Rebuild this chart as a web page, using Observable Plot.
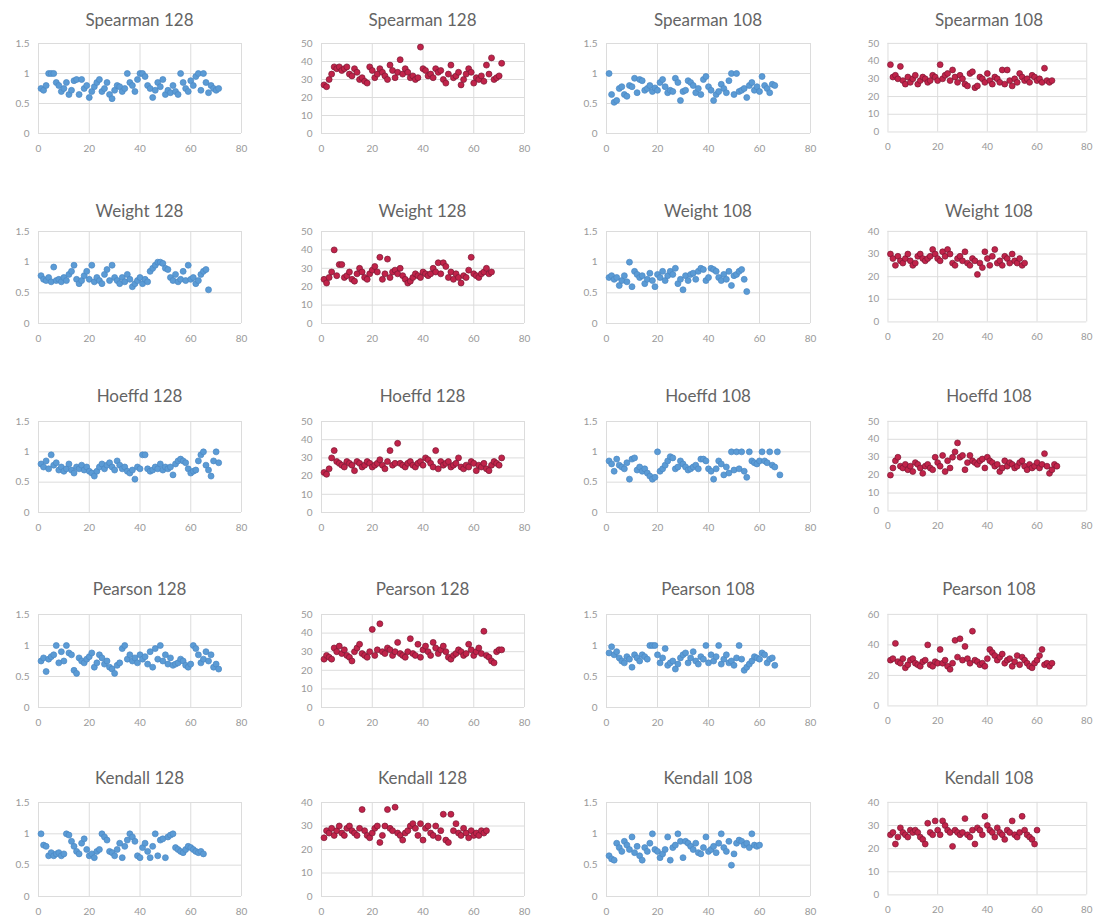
<!DOCTYPE html>
<html><head><meta charset="utf-8">
<script src="https://cdn.jsdelivr.net/npm/d3@7"></script>
<script src="https://cdn.jsdelivr.net/npm/@observablehq/plot@0.6"></script>
<style>
html,body{margin:0;padding:0;background:#fff;}
#root{position:relative;width:1102px;height:917px;overflow:hidden;font-family:Lato,"Open Sans",sans-serif;}
.panel{position:absolute;}
.title{position:absolute;font-size:17px;color:#646464;text-align:center;white-space:nowrap;line-height:20px;}
</style></head><body><div id="root"></div>
<script>
// ---------- DATA (x = 1..N) ----------
const spearman128Blue = [0.75,0.72,0.8,1.0,1.0,1.0,0.85,0.8,0.7,0.75, 0.85,0.65,0.72,0.88,0.9,0.65,0.9,0.75,0.8,0.6, 0.7,0.78,0.85,0.9,0.7,0.75,0.85,0.65,0.58,0.72, 0.8,0.78,0.7,0.75,1.0,0.85,0.8,0.7,0.9,1.0, 1.0,0.95,0.8,0.75,0.6,0.72,0.85,0.78,0.9,0.65, 0.72,0.68,0.8,0.7,0.65,1.0,0.85,0.75,0.7,0.88, 0.8,0.95,1.0,0.72,1.0,0.85,0.68,0.8,0.75,0.72, 0.75];
const spearman128Red = [27,26,30,33,37,36,37,35,36,37, 33,32,36,34,30,31,29,28,37,35, 31,33,36,34,32,30,38,35,31,34, 41,33,36,34,31,32,30,31,48,36, 35,32,33,31,36,34,35,30,28,33, 38,31,32,34,27,30,33,36,34,28, 31,30,32,29,38,33,42,30,31,32, 39];
const spearman108Blue = [1.0,0.65,0.52,0.55,0.75,0.78,0.65,0.62,0.8,0.78, 0.92,0.68,0.9,0.88,0.72,0.75,0.8,0.7,0.76,0.72, 0.85,0.9,0.78,0.68,0.72,0.7,0.92,0.85,0.55,0.7, 0.72,0.88,0.85,0.8,0.68,0.75,0.65,0.9,0.95,0.78, 0.72,0.55,0.65,0.7,0.82,0.75,0.68,0.88,1.0,0.65, 1.0,0.7,0.72,0.75,0.6,0.8,0.85,0.72,0.78,0.7, 0.95,0.8,0.75,0.68,0.82,0.8];
const spearman108Red = [38,31,32,30,37,29,27,31,28,30, 32,27,29,31,30,28,29,32,31,29, 38,30,32,33,29,35,31,28,32,30, 27,26,33,34,25,26,31,30,28,33, 29,27,31,30,28,35,27,35,29,26, 30,28,33,31,29,30,28,32,31,29, 30,28,36,29,28,29];

const weight128Blue = [0.78,0.72,0.7,0.75,0.68,0.92,0.7,0.72,0.68,0.75, 0.7,0.8,0.85,0.95,0.72,0.65,0.7,0.78,0.85,0.72, 0.95,0.68,0.75,0.7,0.65,0.8,0.88,0.7,0.95,0.75, 0.7,0.65,0.75,0.68,0.8,0.72,0.6,0.65,0.7,0.75, 0.65,0.72,0.68,0.85,0.9,0.95,1.0,1.0,0.98,0.9, 0.88,0.75,0.7,0.8,0.68,0.72,0.85,0.7,0.95,0.72, 0.75,0.65,0.7,0.8,0.85,0.88,0.55];
const weight128Red = [24,22,25,28,40,26,32,32,25,26, 28,24,23,27,30,28,25,24,27,29, 31,28,36,24,27,35,25,28,29,27, 30,26,24,22,23,25,27,26,25,28, 27,26,27,30,28,33,27,33,31,25, 28,24,27,25,22,26,25,29,36,27, 26,25,27,28,30,27,28];
const weight108Blue = [0.75,0.78,0.72,0.75,0.62,0.7,0.78,0.68,1.0,0.6, 0.85,0.8,0.75,0.78,0.65,0.72,0.82,0.7,0.6,0.8, 0.75,0.85,0.7,0.78,0.85,0.8,0.9,0.65,0.72,0.55, 0.78,0.7,0.8,0.82,0.72,0.85,0.9,0.88,0.7,0.75, 0.9,0.88,0.85,0.75,0.7,0.8,0.72,0.85,0.62,0.78, 0.8,0.85,0.88,0.72,0.52];
const weight108Red = [30,28,25,29,27,26,28,30,27,25, 26,29,30,28,27,28,29,32,30,28, 27,31,29,32,30,26,25,28,29,27, 31,26,25,28,27,21,26,24,31,28, 25,29,32,26,27,25,29,28,26,30, 27,26,28,25,26];

const hoeffd128Blue = [0.8,0.75,0.85,0.72,0.95,0.78,0.82,0.7,0.75,0.68, 0.72,0.8,0.7,0.65,0.75,0.72,0.78,0.7,0.75,0.68, 0.65,0.6,0.68,0.75,0.8,0.72,0.78,0.82,0.75,0.7, 0.85,0.78,0.72,0.75,0.68,0.65,0.7,0.55,0.75,0.72, 0.95,0.95,0.72,0.68,0.7,0.75,0.72,0.8,0.7,0.75, 0.72,0.75,0.62,0.8,0.85,0.88,0.85,0.82,0.72,0.65, 0.68,0.7,0.85,0.95,1.0,0.78,0.7,0.6,0.85,1.0, 0.82];
const hoeffd128Red = [22,21,24,30,34,28,27,26,25,28, 27,26,23,28,27,25,26,28,27,25, 26,27,29,26,24,28,34,26,27,38, 27,26,25,27,28,26,25,27,28,26, 30,29,27,25,34,24,28,26,27,28, 25,26,27,30,25,24,26,25,28,27, 23,26,25,27,24,23,26,28,27,26, 30];
const hoeffd108Blue = [0.85,0.8,0.68,0.88,0.78,0.75,0.72,0.82,0.55,0.88, 0.9,0.7,0.75,0.68,0.72,0.65,0.6,0.55,0.58,1.0, 0.68,0.72,0.78,0.85,0.92,0.9,0.72,0.75,0.85,0.8, 0.75,0.7,0.72,0.75,0.78,0.72,0.88,0.88,0.85,0.72, 0.68,0.55,0.72,0.85,0.8,0.62,0.75,0.65,1.0,0.7, 1.0,0.72,1.0,0.68,0.58,1.0,0.85,0.82,0.8,0.85, 1.0,0.85,0.82,1.0,0.78,0.75,1.0,0.62];
const hoeffd108Red = [20,24,28,30,25,24,26,23,25,22, 27,26,24,21,25,26,24,23,30,27, 25,31,22,28,24,30,33,38,30,31, 23,27,31,28,27,26,28,29,24,30, 28,27,25,26,22,24,28,25,27,26, 24,25,27,28,25,23,26,24,25,27, 24,26,32,25,21,23,26,25];

const pearson128Blue = [0.75,0.8,0.58,0.78,0.82,0.85,1.0,0.72,0.9,0.75, 1.0,0.88,0.85,0.6,0.55,0.8,0.75,0.72,0.78,0.82, 0.88,0.65,0.72,0.85,0.8,0.7,0.75,0.65,0.62,0.55, 0.68,0.72,0.95,1.0,0.78,0.85,0.75,0.8,0.72,0.85, 0.78,0.82,0.7,0.9,0.65,0.95,0.78,1.0,0.75,0.85, 0.7,0.8,0.68,0.7,0.72,0.78,0.75,0.68,0.65,0.7, 1.0,0.95,0.85,0.72,0.78,0.9,0.75,0.85,0.65,0.7, 0.62];
const pearson128Red = [26,28,27,26,32,30,33,29,31,28, 27,25,30,32,34,29,28,27,30,42, 28,31,45,30,29,32,31,28,30,35, 29,28,27,30,37,29,28,34,27,31, 33,30,28,35,32,29,31,33,30,27, 26,28,29,31,30,28,29,34,31,28, 30,32,29,41,28,27,25,24,30,31, 31];
const pearson108Blue = [0.88,0.98,0.85,0.9,0.8,0.75,0.72,0.82,0.78,0.65, 0.85,0.8,0.75,0.85,0.82,0.78,1.0,1.0,1.0,0.85, 0.72,0.8,0.95,0.68,0.72,0.75,0.62,0.7,0.8,0.85, 0.88,0.72,0.8,0.9,0.75,0.7,0.82,0.78,1.0,0.72, 0.85,0.75,0.82,1.0,0.7,0.78,0.85,0.72,0.75,0.68, 0.8,1.0,0.78,0.6,0.65,0.7,0.75,0.82,0.8,0.78, 0.88,0.85,0.72,0.78,0.8,0.68];
const pearson108Red = [30,31,41,29,28,31,25,27,30,31, 28,27,26,29,30,40,27,26,29,28, 37,28,30,26,24,28,43,32,44,30, 39,31,28,49,30,29,27,28,26,31, 37,35,33,30,32,34,28,30,31,26, 29,33,27,32,30,28,26,25,28,30, 33,37,27,28,26,28];

const kendall128Blue = [1.0,0.82,0.8,0.65,0.7,0.65,0.68,0.7,0.65,0.68, 1.0,0.98,0.88,0.8,0.72,0.68,0.85,0.92,0.75,0.65, 0.68,0.62,0.72,0.75,1.0,0.95,0.9,0.72,0.7,0.65, 0.75,0.85,0.62,0.8,0.9,1.0,0.95,0.88,0.65,0.62, 0.78,0.85,0.72,0.62,0.8,1.0,0.65,0.9,0.92,0.62, 0.95,0.98,1.0,0.78,0.75,0.72,0.7,0.75,0.8,0.78, 0.75,0.72,0.7,0.72,0.68];
const kendall128Red = [25,28,27,29,26,28,30,27,26,29, 30,28,27,26,29,37,28,26,25,27, 29,30,23,26,30,37,29,28,38,27, 26,24,27,28,30,31,29,26,31,24, 29,30,27,26,30,25,28,35,24,23, 35,28,31,27,26,29,27,25,28,26, 27,26,28,27,28];
const kendall108Blue = [0.65,0.6,0.58,0.85,0.78,0.72,0.88,0.82,0.75,0.95, 0.7,0.8,0.65,0.58,0.78,0.72,0.85,1.0,0.75,0.72, 0.62,0.68,0.75,0.95,0.58,0.78,0.82,1.0,0.88,0.62, 0.88,0.85,0.8,0.75,0.85,0.7,0.68,0.78,0.95,0.72, 0.75,0.8,0.7,0.85,1.0,0.78,0.72,0.88,0.5,0.68, 0.85,0.9,0.88,0.82,0.85,0.78,1.0,0.82,0.8,0.82];
const kendall108Red = [26,27,22,25,29,27,26,25,28,27, 28,27,25,24,22,31,27,26,32,28, 26,32,30,28,27,21,28,27,26,27, 33,26,25,28,22,29,28,26,34,30, 28,27,25,29,27,26,24,28,27,32, 26,25,27,34,28,26,25,24,22,28];

const panelTitles = [
  "Spearman 128","Spearman 128","Spearman 108","Spearman 108",
  "Weight 128","Weight 128","Weight 108","Weight 108",
  "Hoeffd 128","Hoeffd 128","Hoeffd 108","Hoeffd 108",
  "Pearson 128","Pearson 128","Pearson 108","Pearson 108",
  "Kendall 128","Kendall 128","Kendall 108","Kendall 108"
];
const panelValues = [
  spearman128Blue, spearman128Red, spearman108Blue, spearman108Red,
  weight128Blue, weight128Red, weight108Blue, weight108Red,
  hoeffd128Blue, hoeffd128Red, hoeffd108Blue, hoeffd108Red,
  pearson128Blue, pearson128Red, pearson108Blue, pearson108Red,
  kendall128Blue, kendall128Red, kendall108Blue, kendall108Red
];
// y-axis tick labels for each panel
const panelYTicks = [
  [0,0.5,1,1.5],[0,10,20,30,40,50],[0,0.5,1,1.5],[0,10,20,30,40,50],
  [0,0.5,1,1.5],[0,10,20,30,40,50],[0,0.5,1,1.5],[0,10,20,30,40],
  [0,0.5,1,1.5],[0,10,20,30,40,50],[0,0.5,1,1.5],[0,10,20,30,40,50],
  [0,0.5,1,1.5],[0,10,20,30,40,50],[0,0.5,1,1.5],[0,20,40,60],
  [0,0.5,1,1.5],[0,10,20,30,40],[0,0.5,1,1.5],[0,10,20,30,40]
];
const xTicks = [0,20,40,60,80];

// ---------- LAYOUT / STYLE ----------
const colLefts = [38,321,606,888];
const colWidths = [203,203,204,202];
const rowTops = [43,231,421,614,802];
const rowHeights = [90,92,91,93,94];
const titleCenters = [20,211,396,589,778];
const mL = 34, mR = 16, mT = 6, mB = 24;
const styles = {
  blue: {fill:"#5b9bd5", stroke:"#4a88c4"},
  red: {fill:"#c1234a", stroke:"#7a1833"}
};

const root = document.getElementById("root");
panelTitles.forEach((title, k) => {
  const row = Math.floor(k/4), col = k%4;
  const values = panelValues[k];
  const data = values.map((v,i) => ({i: i+1, v}));
  const yTicks = panelYTicks[k];
  const st = (col % 2 === 0) ? styles.blue : styles.red;
  const w = colWidths[col], h = rowHeights[row];
  const chart = Plot.plot({
    width: mL + w + mR, height: mT + h + mB,
    marginLeft: mL, marginRight: mR, marginTop: mT, marginBottom: mB,
    style: {fontFamily: "Lato, 'Open Sans', sans-serif", fontSize: "10px", color: "#999999", background: "transparent", overflow: "visible"},
    x: {domain: [0,80]},
    y: {domain: [0, yTicks[yTicks.length-1]]},
    marks: [
      Plot.gridX(xTicks, {stroke: "#dcdcdc", strokeOpacity: 1}),
      Plot.gridY(yTicks, {stroke: "#dcdcdc", strokeOpacity: 1}),
      Plot.axisX(xTicks, {tickSize: 0, tickPadding: 11, label: null, tickFormat: d => String(d)}),
      Plot.axisY(yTicks, {tickSize: 0, tickPadding: 9, label: null, tickFormat: d => String(d)}),
      Plot.dot(data, {x: "i", y: "v", r: 3, fill: st.fill, stroke: st.stroke, strokeWidth: 0.7})
    ]
  });
  const div = document.createElement("div");
  div.className = "panel";
  div.style.left = (colLefts[col] - mL) + "px";
  div.style.top = (rowTops[row] - mT) + "px";
  div.appendChild(chart);
  root.appendChild(div);
  const t = document.createElement("div");
  t.className = "title";
  t.textContent = title;
  t.style.left = (colLefts[col] + w/2 - 100) + "px";
  t.style.width = "200px";
  t.style.top = (titleCenters[row] - 10) + "px";
  root.appendChild(t);
});
</script>
</body></html>
